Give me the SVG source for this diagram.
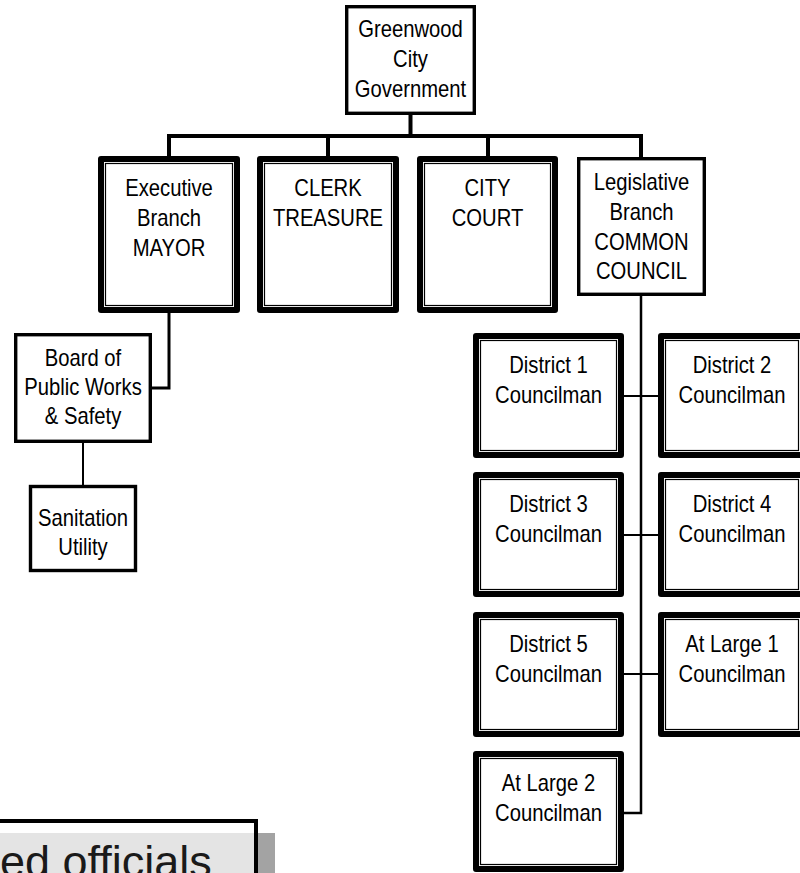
<svg xmlns="http://www.w3.org/2000/svg" width="800" height="873" viewBox="0 0 800 873">
<style>
.t{font-family:"Liberation Sans",Arial,sans-serif;font-size:23px;text-anchor:middle;fill:#000}
.box{fill:#fff;stroke:#000;stroke-width:3.4}
.thick{fill:#fff;stroke:#000;stroke-width:6;stroke-linejoin:round}
.inner{fill:none;stroke:#000;stroke-width:1.2}
.c{fill:none;stroke:#000}
</style>
<rect width="800" height="873" fill="#fff"/>
<g id="connectors">
<path class="c" stroke-width="4" d="M410.5,115 V136"/>
<path class="c" stroke-width="4" d="M169,156 V136 H641 V157 M328,136 V156 M488,136 V156"/>
<path class="c" stroke-width="3" d="M169,313 V388 H152"/>
<path class="c" stroke-width="2" d="M83,443 V485"/>
<path class="c" stroke-width="2.5" d="M641,296 V813 H624"/>
<path class="c" stroke-width="2" d="M624,396 H658 M624,535 H658 M624,674 H658"/>
</g>
<g id="gov">
<rect class="box" x="346.7" y="6.7" width="127.6" height="106.6"/>
<text class="t" transform="translate(410.5 0) scale(0.88 1)"><tspan x="0" y="37">Greenwood</tspan><tspan x="0" y="67">City</tspan><tspan x="0" y="97">Government</tspan></text>
</g>
<g id="executive">
<rect class="thick" x="101" y="159" width="136" height="151"/>
<rect class="inner" x="105.5" y="163.5" width="127" height="142"/>
<text class="t" transform="translate(169 0) scale(0.88 1)"><tspan x="0" y="196">Executive</tspan><tspan x="0" y="226">Branch</tspan><tspan x="0" y="256">MAYOR</tspan></text>
</g>
<g id="clerk">
<rect class="thick" x="260" y="159" width="136" height="151"/>
<rect class="inner" x="264.5" y="163.5" width="127" height="142"/>
<text class="t" transform="translate(328 0) scale(0.88 1)"><tspan x="0" y="196">CLERK</tspan><tspan x="0" y="226">TREASURE</tspan></text>
</g>
<g id="court">
<rect class="thick" x="420" y="159" width="135" height="151"/>
<rect class="inner" x="424.5" y="163.5" width="126" height="142"/>
<text class="t" transform="translate(487.5 0) scale(0.88 1)"><tspan x="0" y="196">CITY</tspan><tspan x="0" y="226">COURT</tspan></text>
</g>
<g id="legislative">
<rect class="box" x="578.7" y="158.7" width="125.6" height="135.6"/>
<text class="t" transform="translate(641.5 0) scale(0.88 1)"><tspan x="0" y="190">Legislative</tspan><tspan x="0" y="220">Branch</tspan><tspan x="0" y="250">COMMON</tspan><tspan x="0" y="279">COUNCIL</tspan></text>
</g>
<g id="board">
<rect class="box" x="15.7" y="334.7" width="134.6" height="106.6"/>
<text class="t" transform="translate(83 0) scale(0.88 1)"><tspan x="0" y="366">Board of</tspan><tspan x="0" y="395">Public Works</tspan><tspan x="0" y="424">&amp; Safety</tspan></text>
</g>
<g id="sanitation">
<rect class="box" x="30.5" y="486.5" width="105" height="84" stroke-width="3"/>
<text class="t" transform="translate(83 0) scale(0.88 1)"><tspan x="0" y="526">Sanitation</tspan><tspan x="0" y="555">Utility</tspan></text>
</g>
<g id="district1">
<rect class="thick" x="476" y="336" width="145" height="119"/>
<rect class="inner" x="480.5" y="340.5" width="136" height="110"/>
<text class="t" transform="translate(548.5 0) scale(0.88 1)"><tspan x="0" y="373">District 1</tspan><tspan x="0" y="403">Councilman</tspan></text>
</g>
<g id="district2">
<rect class="thick" x="661" y="336" width="142" height="119"/>
<rect class="inner" x="665.5" y="340.5" width="133" height="110"/>
<text class="t" transform="translate(732 0) scale(0.88 1)"><tspan x="0" y="373">District 2</tspan><tspan x="0" y="403">Councilman</tspan></text>
</g>
<g id="district3">
<rect class="thick" x="476" y="475" width="145" height="119"/>
<rect class="inner" x="480.5" y="479.5" width="136" height="110"/>
<text class="t" transform="translate(548.5 0) scale(0.88 1)"><tspan x="0" y="512">District 3</tspan><tspan x="0" y="542">Councilman</tspan></text>
</g>
<g id="district4">
<rect class="thick" x="661" y="475" width="142" height="119"/>
<rect class="inner" x="665.5" y="479.5" width="133" height="110"/>
<text class="t" transform="translate(732 0) scale(0.88 1)"><tspan x="0" y="512">District 4</tspan><tspan x="0" y="542">Councilman</tspan></text>
</g>
<g id="district5">
<rect class="thick" x="476" y="615" width="145" height="119"/>
<rect class="inner" x="480.5" y="619.5" width="136" height="110"/>
<text class="t" transform="translate(548.5 0) scale(0.88 1)"><tspan x="0" y="652">District 5</tspan><tspan x="0" y="682">Councilman</tspan></text>
</g>
<g id="atlarge1">
<rect class="thick" x="661" y="615" width="142" height="119"/>
<rect class="inner" x="665.5" y="619.5" width="133" height="110"/>
<text class="t" transform="translate(732 0) scale(0.88 1)"><tspan x="0" y="652">At Large 1</tspan><tspan x="0" y="682">Councilman</tspan></text>
</g>
<g id="atlarge2">
<rect class="thick" x="476" y="754" width="145" height="115"/>
<rect class="inner" x="480.5" y="758.5" width="136" height="106"/>
<text class="t" transform="translate(548.5 0) scale(0.88 1)"><tspan x="0" y="791">At Large 2</tspan><tspan x="0" y="821">Councilman</tspan></text>
</g>
<g id="caption">
<rect x="258" y="833" width="17" height="45" fill="#a3a3a3"/>
<rect x="-10" y="821" width="266" height="70" fill="#fff" stroke="#000" stroke-width="4"/>
<rect x="-10" y="833" width="264" height="50" fill="#e4e4e4"/>
<text x="0" y="877" style="font-family:'Liberation Sans',Arial,sans-serif;font-size:45px;fill:#1a1a1a">ed officials</text>
</g>
</svg>
